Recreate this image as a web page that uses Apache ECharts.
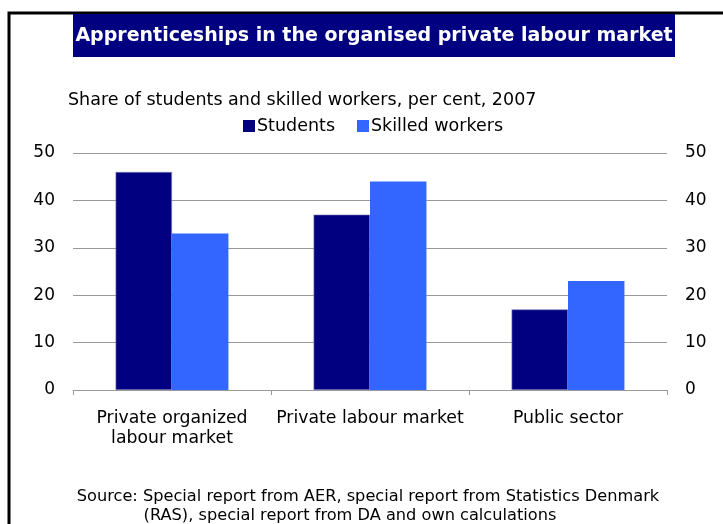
<!DOCTYPE html>
<html>
<head>
<meta charset="utf-8">
<script src="https://cdn.jsdelivr.net/npm/echarts@6/dist/echarts.min.js"></script>
<style>
  html, body { margin: 0; padding: 0; background: #fff; }
  #chart { width: 723px; height: 524px; }
</style>
</head>
<body>
<div id="chart"></div>
<script>
// Categories and series values (per cent, 2007)
const categories = ['Private organized\nlabour market', 'Private labour market', 'Public sector'];
const students = [46, 37, 17];
const skilledWorkers = [33, 44, 23];
const seriesNames = ['Students', 'Skilled workers'];
const axisMin = 0, axisMax = 50, axisStep = 10;

const FONT = 'DejaVu Sans';
const chart = echarts.init(document.getElementById('chart'), null, { renderer: 'canvas' });

const valueAxisBase = {
  type: 'value',
  min: axisMin, max: axisMax, interval: axisStep,
  axisLine: { show: false },
  axisTick: { show: false },
  axisLabel: { color: '#000', fontFamily: FONT, fontSize: 17, margin: 18 },
};

chart.setOption({
  animation: false,
  backgroundColor: '#fff',
  textStyle: { fontFamily: FONT },
  graphic: [
    // outer frame
    { type: 'rect', shape: { x: 9, y: 13, width: 760, height: 560 },
      style: { fill: 'none', stroke: '#000', lineWidth: 3 } },
    // title banner
    { type: 'rect', shape: { x: 73, y: 14, width: 602, height: 43 },
      style: { fill: '#000080' } },
    { type: 'text', x: 374, y: 36,
      style: { text: 'Apprenticeships in the organised private labour market',
        fill: '#fff', font: 'bold 19px "DejaVu Sans"', align: 'center', verticalAlign: 'middle' } },
    { type: 'text', x: 68, y: 100,
      style: { text: 'Share of students and skilled workers, per cent, 2007',
        fill: '#000', font: '17.5px "DejaVu Sans"', align: 'left', verticalAlign: 'middle' } },
    // source note
    { type: 'text', x: 368, y: 497,
      style: { text: 'Source: Special report from AER, special report from Statistics Denmark',
        fill: '#000', font: '16.2px "DejaVu Sans"', align: 'center', verticalAlign: 'middle' } },
    { type: 'text', x: 350, y: 516,
      style: { text: '(RAS), special report from DA and own calculations',
        fill: '#000', font: '16.2px "DejaVu Sans"', align: 'center', verticalAlign: 'middle' } }
  ],
  legend: {
    data: seriesNames,
    top: 112, left: 238,
    itemWidth: 12, itemHeight: 12, itemGap: 22,
    icon: 'rect',
    itemStyle: { borderWidth: 0 },
    textStyle: { color: '#000', fontFamily: FONT, fontSize: 17.5, padding: [0, 0, 0, -3] }
  },
  grid: { left: 73, right: 56, top: 153, bottom: 134, containLabel: false },
  xAxis: {
    type: 'category',
    data: categories,
    axisLine: { lineStyle: { color: '#999', width: 1 } },
    axisTick: { show: true, interval: 0, alignWithLabel: false, length: 5, lineStyle: { color: '#999' } },
    axisLabel: { interval: 0, color: '#000', fontFamily: FONT, fontSize: 17.3, margin: 19, lineHeight: 20 }
  },
  yAxis: [
    Object.assign({}, valueAxisBase, {
      position: 'left',
      splitLine: { show: true, lineStyle: { color: '#999', width: 1 } }
    }),
    Object.assign({}, valueAxisBase, {
      position: 'right',
      splitLine: { show: false }
    })
  ],
  series: [
    { name: seriesNames[0], type: 'bar', data: students, yAxisIndex: 0,
      barWidth: '28.5%', barGap: '0%',
      itemStyle: { color: '#000080', borderColor: '#8a8ac0', borderWidth: 0.6 } },
    { name: seriesNames[1], type: 'bar', data: skilledWorkers, yAxisIndex: 0,
      barWidth: '28.5%', barGap: '0%',
      itemStyle: { color: '#3366ff' } }
  ]
});
</script>
</body>
</html>
